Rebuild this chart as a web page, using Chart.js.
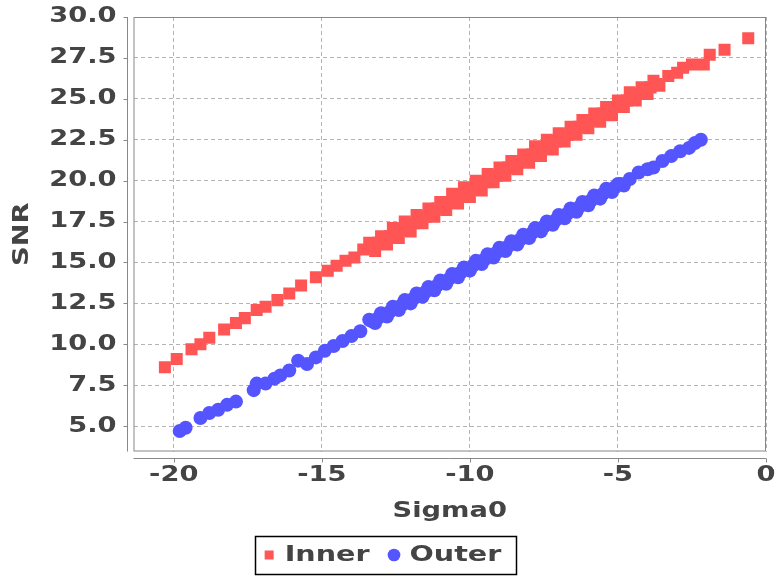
<!DOCTYPE html>
<html lang="en">
<head>
    <meta charset="UTF-8">
    <title>Sigma0 vs SNR</title>
    <script src="https://cdn.jsdelivr.net/npm/chart.js"></script>
    <style>
        body {
            margin: 0;
            background: #fff;
        }
        .wrap {
            width: 776px;
            height: 576px;
        }
    </style>
</head>
<body>
    <div class="wrap"><canvas id="snrChart"></canvas></div>

    <script>
        // values
        const innerSigma = [-20.3, -19.9, -19.4, -19.1, -18.8, -18.3, -17.9, -17.6, -17.2, -16.9,
            -16.5, -16.1, -15.7, -15.2, -14.8, -14.5, -14.2, -13.9, -13.6,
            -13.4, -13.2, -13.0, -12.8, -12.6, -12.4, -12.2, -12.0, -11.8, -11.6,
            -11.4, -11.2, -11.0, -10.8, -10.6, -10.4, -10.2, -10.0, -9.8, -9.6,
            -9.4, -9.2, -9.0, -8.8, -8.6, -8.4, -8.2, -8.0, -7.8, -7.6,
            -7.4, -7.2, -7.0, -6.8, -6.6, -6.4, -6.2, -6.0, -5.8, -5.6,
            -5.4, -5.2, -5.0, -4.8, -4.6, -4.4, -4.2, -4.0, -3.8, -3.6,
            -13.3, -13.1, -12.9, -12.7, -12.5, -12.3, -12.1, -11.9, -11.7, -11.5,
            -11.3, -11.1, -10.9, -10.7, -10.5, -10.3, -10.1, -9.9, -9.7, -9.5,
            -9.3, -9.1, -8.9, -8.7, -8.5, -8.3, -8.1, -7.9, -7.7, -7.5,
            -7.3, -7.1, -6.9, -6.7, -6.5, -6.3, -6.1, -5.9, -5.7, -5.5,
            -5.3, -5.1, -4.9, -4.7, -4.5, -4.3, -4.1, -3.9, -3.7,
            -3.3, -3.0, -2.8, -2.5, -2.1, -1.9, -1.4, -0.6];
        const innerSnr = [8.6, 9.1, 9.7, 10.0, 10.4, 10.9, 11.3, 11.6, 12.1, 12.3,
            12.7, 13.1, 13.6, 14.1, 14.5, 14.8, 15.1, 15.3, 15.8,
            16.2, 15.7, 16.6, 16.1, 17.1, 16.5, 17.5, 16.9, 17.9, 17.4,
            18.3, 17.8, 18.7, 18.2, 19.2, 18.6, 19.6, 19.0, 20.0, 19.4,
            20.4, 19.9, 20.8, 20.3, 21.2, 20.7, 21.6, 21.1, 22.1, 21.5,
            22.5, 21.9, 22.9, 22.4, 23.3, 22.8, 23.7, 23.2, 24.1, 23.6,
            24.5, 24.0, 24.9, 24.5, 25.4, 24.9, 25.7, 25.3, 26.1, 25.8,
            16.0, 16.2, 16.4, 16.6, 16.8, 17.0, 17.2, 17.4, 17.6, 17.8,
            18.1, 18.3, 18.5, 18.7, 18.9, 19.1, 19.3, 19.5, 19.7, 19.9,
            20.1, 20.3, 20.6, 20.8, 21.0, 21.2, 21.4, 21.6, 21.8, 22.0,
            22.2, 22.4, 22.6, 22.8, 23.0, 23.3, 23.5, 23.7, 23.9, 24.1,
            24.3, 24.5, 24.7, 24.9, 25.1, 25.3, 25.5, 25.7, 25.9,
            26.4, 26.6, 26.9, 27.1, 27.1, 27.7, 28.0, 28.7];

        const outerSigma = [-19.8, -19.6, -19.1, -18.8, -18.5, -18.2, -17.9, -17.3, -17.2, -16.9,
            -16.6, -16.4, -16.1, -15.8, -15.5, -15.2, -14.9, -14.6, -14.3, -14.0,
            -13.7, -13.4, -13.2, -13.0, -12.8, -12.6, -12.4, -12.2, -12.0, -11.8,
            -11.6, -11.4, -11.2, -11.0, -10.8, -10.6, -10.4, -10.2, -10.0, -9.8,
            -9.6, -9.4, -9.2, -9.0, -8.8, -8.6, -8.4, -8.2, -8.0, -7.8,
            -7.6, -7.4, -7.2, -7.0, -6.8, -6.6, -6.4, -6.2, -6.0, -5.8,
            -5.6, -5.4, -5.2, -5.0, -4.8,
            -13.3, -13.1, -12.9, -12.7, -12.5, -12.3, -12.1, -11.9, -11.7, -11.5,
            -11.3, -11.1, -10.9, -10.7, -10.5, -10.3, -10.1, -9.9, -9.7, -9.5,
            -9.3, -9.1, -8.9, -8.7, -8.5, -8.3, -8.1, -7.9, -7.7, -7.5,
            -7.3, -7.1, -6.9, -6.7, -6.5, -6.3, -6.1, -5.9, -5.7, -5.5,
            -5.3, -5.1, -4.9,
            -4.6, -4.3, -4.0, -3.8, -3.5, -3.2, -2.9, -2.6, -2.4, -2.2];
        const outerSnr = [4.7, 4.9, 5.5, 5.8, 6.0, 6.3, 6.5, 7.2, 7.6, 7.6,
            7.9, 8.1, 8.4, 9.0, 8.8, 9.2, 9.6, 9.9, 10.2, 10.5,
            10.8, 11.5, 11.3, 11.9, 11.7, 12.3, 12.1, 12.7, 12.5, 13.1,
            12.9, 13.5, 13.3, 13.9, 13.7, 14.3, 14.1, 14.7, 14.5, 15.1,
            14.9, 15.5, 15.3, 15.9, 15.7, 16.3, 16.1, 16.7, 16.5, 17.1,
            16.9, 17.5, 17.3, 17.9, 17.7, 18.3, 18.1, 18.7, 18.5, 19.1,
            18.9, 19.5, 19.3, 19.8, 19.7,
            11.4, 11.6, 11.8, 12.0, 12.2, 12.4, 12.6, 12.8, 13.0, 13.2,
            13.4, 13.6, 13.8, 14.0, 14.2, 14.4, 14.6, 14.8, 15.0, 15.2,
            15.4, 15.6, 15.8, 16.0, 16.2, 16.4, 16.6, 16.8, 17.0, 17.2,
            17.4, 17.6, 17.8, 18.0, 18.2, 18.4, 18.6, 18.8, 19.0, 19.2,
            19.4, 19.6, 19.8,
            20.1, 20.5, 20.7, 20.8, 21.2, 21.5, 21.8, 22.0, 22.3, 22.5];

        const seriesNames = ["Inner", "Outer"];
        const xTickStep = 5;
        const yTickStep = 2.5;

        const toPoints = (xs, ys) => xs.map((v, i) => ({ x: v, y: ys[i] }));

        const canvas = document.getElementById('snrChart');

        // the reference text is set in a wide face: draw every string a bit stretched
        const WIDE = 1.3;
        const ctx2d = canvas.getContext('2d');
        const baseFill = ctx2d.fillText;
        const baseMeasure = ctx2d.measureText;
        ctx2d.fillText = function (text, x, y, maxWidth) {
            this.save();
            this.translate(x, y);
            this.scale(WIDE, 1);
            if (maxWidth === undefined) {
                baseFill.call(this, text, 0, 0);
            } else {
                baseFill.call(this, text, 0, 0, maxWidth / WIDE);
            }
            this.restore();
        };
        ctx2d.measureText = function (text) {
            const m = baseMeasure.call(this, text);
            return {
                width: m.width * WIDE,
                actualBoundingBoxLeft: m.actualBoundingBoxLeft * WIDE,
                actualBoundingBoxRight: m.actualBoundingBoxRight * WIDE,
                actualBoundingBoxAscent: m.actualBoundingBoxAscent,
                actualBoundingBoxDescent: m.actualBoundingBoxDescent
            };
        };

        const textFont = { family: "'DejaVu Sans', sans-serif", size: 21, weight: 'bold' };
        const gray = '#444';

        // plot outline plus the axis lines set a bit away from it
        const axisFrame = {
            id: 'axisFrame',
            beforeDatasetsDraw(chart) {
                const { ctx, chartArea: a, scales } = chart;
                ctx.save();
                ctx.strokeStyle = '#888';
                ctx.lineWidth = 1;
                ctx.strokeRect(a.left + 0.5, a.top + 0.5, a.width - 1, a.height - 1);
                ctx.beginPath();
                const ax = Math.round(a.left - 7) + 0.5;
                const ay = Math.round(a.bottom + 6) + 0.5;
                ctx.moveTo(ax, a.top);
                ctx.lineTo(ax, a.bottom);
                scales.y.ticks.forEach(t => {
                    const py = Math.round(scales.y.getPixelForValue(t.value)) + 0.5;
                    ctx.moveTo(ax - 4, py);
                    ctx.lineTo(ax, py);
                });
                ctx.moveTo(a.left, ay);
                ctx.lineTo(a.right, ay);
                scales.x.ticks.forEach(t => {
                    const px = Math.round(scales.x.getPixelForValue(t.value)) + 0.5;
                    ctx.moveTo(px, ay);
                    ctx.lineTo(px, ay + 4);
                });
                ctx.stroke();
                ctx.restore();
            }
        };

        // black frame round the legend
        const legendFrame = {
            id: 'legendFrame',
            afterDraw(chart) {
                const boxes = chart.legend.legendHitBoxes;
                if (!boxes || !boxes.length) return;
                const left = Math.min(...boxes.map(b => b.left)) - 10;
                const right = Math.max(...boxes.map(b => b.left + b.width)) + 14;
                const top = Math.min(...boxes.map(b => b.top)) - 8;
                const bottom = Math.max(...boxes.map(b => b.top + b.height)) + 8;
                const ctx = chart.ctx;
                ctx.save();
                ctx.strokeStyle = '#000';
                ctx.lineWidth = 1.5;
                ctx.strokeRect(Math.round(left) + 0.5, Math.round(top) + 0.5,
                    Math.round(right - left), Math.round(bottom - top));
                ctx.restore();
            }
        };

        new Chart(canvas, {
            type: 'scatter',
            data: {
                datasets: [{
                    label: seriesNames[0],
                    data: toPoints(innerSigma, innerSnr),
                    backgroundColor: 'rgb(255, 85, 85)',
                    borderWidth: 0,
                    pointStyle: 'rect',
                    pointRadius: 8.5,
                    pointHoverRadius: 8.5
                }, {
                    label: seriesNames[1],
                    data: toPoints(outerSigma, outerSnr),
                    backgroundColor: 'rgb(85, 85, 255)',
                    borderWidth: 0,
                    pointStyle: 'circle',
                    pointRadius: 7,
                    pointHoverRadius: 7
                }]
            },
            options: {
                responsive: true,
                maintainAspectRatio: false,
                animation: false,
                layout: {
                    padding: { top: 17, right: 10, left: 0, bottom: 0 }
                },
                scales: {
                    x: {
                        type: 'linear',
                        min: -21.36,
                        max: 0,
                        afterFit(scale) {
                            scale.height = 576 - 451.5 - scale.chart.legend.height;
                            scale.paddingLeft = 0;
                            scale.paddingRight = 0;
                        },
                        ticks: {
                            stepSize: xTickStep,
                            includeBounds: false,
                            color: gray,
                            font: textFont,
                            padding: 11.5
                        },
                        grid: {
                            color: '#b4b4b4',
                            drawTicks: false
                        },
                        border: { display: false, dash: [4, 3] },
                        title: {
                            display: true,
                            text: 'Sigma0',
                            color: gray,
                            font: textFont,
                            padding: { top: 0, bottom: 0 }
                        }
                    },
                    y: {
                        type: 'linear',
                        min: 3.45,
                        max: 30,
                        afterFit(scale) {
                            scale.width = 133.5;
                            scale.paddingTop = 0;
                            scale.paddingBottom = 0;
                        },
                        ticks: {
                            stepSize: yTickStep,
                            includeBounds: false,
                            color: gray,
                            font: textFont,
                            padding: 17,
                            callback: v => v.toFixed(1)
                        },
                        grid: {
                            color: '#b4b4b4',
                            drawTicks: false
                        },
                        border: { display: false, dash: [4, 3] },
                        title: {
                            display: true,
                            text: 'SNR',
                            color: gray,
                            font: textFont,
                            padding: { top: 10, bottom: 0 }
                        }
                    }
                },
                plugins: {
                    legend: {
                        position: 'bottom',
                        labels: {
                            usePointStyle: true,
                            boxHeight: 9,
                            boxWidth: 9,
                            padding: 20,
                            color: gray,
                            font: { family: "'DejaVu Sans', sans-serif", size: 22, weight: 'bold' }
                        }
                    },
                    tooltip: { enabled: false }
                }
            },
            plugins: [axisFrame, legendFrame]
        });
    </script>
</body>
</html>
